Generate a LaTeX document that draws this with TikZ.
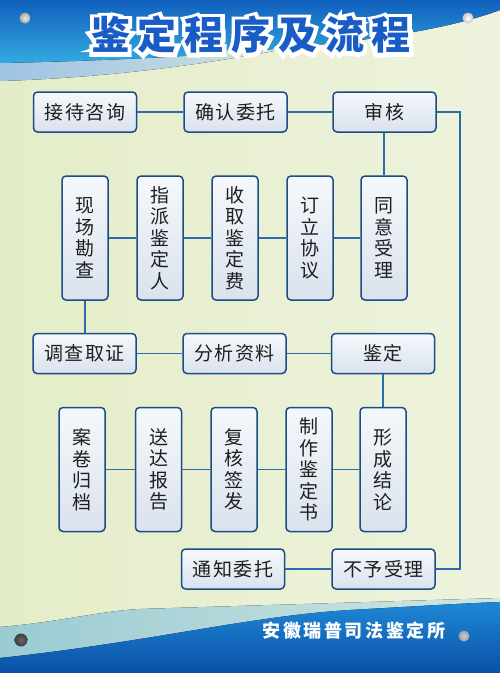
\documentclass[tikz,border=0pt]{standalone}
\usepackage{fontspec}
\newfontfamily\cjk{Noto Sans CJK SC}
\newfontfamily\cjkls{Noto Sans CJK SC}[LetterSpace=8]
\newfontfamily\cjktitle{Noto Sans CJK SC}[LetterSpace=20]
\newfontfamily\cjktitleW{Noto Sans CJK SC}[LetterSpace=20, FakeBold=20]
\newfontfamily\cjkfoot{Noto Sans CJK SC}[LetterSpace=14]
\usetikzlibrary{calc}
\definecolor{bgL}{HTML}{E4EDC8}
\definecolor{bgR}{HTML}{EEF3DD}
\definecolor{bandtop}{HTML}{1160BD}
\definecolor{bandbot}{HTML}{33AAE0}
\definecolor{stripL}{HTML}{9FC3E5}
\definecolor{stripR}{HTML}{D2E4DC}
\definecolor{tealL}{HTML}{9ACBD3}
\definecolor{tealR}{HTML}{CFE6E2}
\definecolor{waveTop}{HTML}{1E88D4}
\definecolor{waveBot}{HTML}{0B50A8}
\definecolor{boxborder}{HTML}{1B4C85}
\definecolor{boxtop}{HTML}{F5F8FC}
\definecolor{boxbot}{HTML}{DAE2ED}
\definecolor{linec}{HTML}{2A6DAD}
\definecolor{textc}{HTML}{1E1E1E}
\definecolor{titlec}{HTML}{1A5CC6}
\tikzset{
  boxbase/.style={draw=boxborder, line width=1.5pt, rounded corners=4pt,
    top color=boxtop, bottom color=boxbot, inner sep=0pt, text=textc},
  hbox/.style={boxbase, minimum width=103pt, minimum height=40pt,
    font=\cjkls\fontsize{19}{21}\selectfont},
  vbox/.style={boxbase, minimum width=46pt, minimum height=124pt, align=center,
    font=\cjk\fontsize{19}{21.5}\selectfont},
  conn/.style={draw=linec, line width=1.8pt},
  screw/.style={inner sep=0pt, minimum size=11pt, circle}
}
\begin{document}
\begin{tikzpicture}[x=1pt,y=-1pt]
\useasboundingbox (0,0) rectangle (500,673);
% background
\fill[left color=bgL, right color=bgR] (0,0) rectangle (500,673);
% light strip under top band
\fill[left color=stripL, right color=stripR] (0,40) -- (300,40) -- (300,46)
  .. controls (200,66) and (100,78) .. (0,81) -- cycle;
% top band
\fill[top color=bandtop, bottom color=bandbot] (0,0) -- (500,0) -- (500,10)
  .. controls (430,36) and (320,46) .. (200,55) .. controls (120,60) and (50,62) .. (0,63) -- cycle;
% bottom teal wave
\fill[left color=tealL, right color=tealR] (0,627) .. controls (60,622) and (100,611) .. (140,609)
  -- (500,598) -- (500,673) -- (0,673) -- cycle;
% bottom blue wave
\fill[top color=waveTop, bottom color=waveBot] (0,658) .. controls (150,642) and (250,616) .. (350,610)
  .. controls (420,606) and (470,603) .. (500,602) -- (500,673) -- (0,673) -- cycle;
% screws
\node[screw, inner color=white!85!gray, outer color=gray!70] (s1) at (25,18) {};
\node[screw, inner color=white, outer color=gray!45] (s2) at (468,18) {};
\node[screw, inner color=gray!80!black, outer color=black!75, minimum size=13pt] (s3) at (21,640) {};
\node[screw, inner color=gray!40, outer color=gray!75] (s4) at (464,636) {};
% title with white outline
\node[text=white, font=\cjktitleW\bfseries\fontsize{39}{41}\selectfont] (titlebg) at (251,35) {鉴定程序及流程};
\node[text=titlec, font=\cjktitle\bfseries\fontsize{39}{41}\selectfont] (title) at (251,35) {鉴定程序及流程};
% footer
\node[text=white, font=\cjkfoot\bfseries\fontsize{18}{20}\selectfont] (foot) at (354,631) {安徽瑞普司法鉴定所};
% row 1
\node[hbox] (a1) at (85,112) {接待咨询};
\node[hbox] (a2) at (235.5,112) {确认委托};
\node[hbox] (a3) at (384.5,112) {审核};
% row 2
\node[vbox] (b1) at (85,238) {现\\场\\勘\\查};
\node[vbox] (b2) at (160,238) {指\\派\\鉴\\定\\人};
\node[vbox] (b3) at (235,238) {收\\取\\鉴\\定\\费};
\node[vbox] (b4) at (310,238) {订\\立\\协\\议};
\node[vbox] (b5) at (384,238) {同\\意\\受\\理};
% row 3
\node[hbox] (c1) at (84.5,353.5) {调查取证};
\node[hbox] (c2) at (234.5,353.5) {分析资料};
\node[hbox] (c3) at (383,353.5) {鉴定};
% row 4
\node[vbox] (d1) at (82,469.5) {案\\卷\\归\\档};
\node[vbox] (d2) at (158.5,469.5) {送\\达\\报\\告};
\node[vbox] (d3) at (234,469.5) {复\\核\\签\\发};
\node[vbox] (d4) at (309,469.5) {制\\作\\鉴\\定\\书};
\node[vbox] (d5) at (383,469.5) {形\\成\\结\\论};
% row 5
\node[hbox] (e1) at (233,569) {通知委托};
\node[hbox] (e2) at (383.5,569) {不予受理};
% connectors
\draw[conn] (a1) -- (a2);
\draw[conn] (a2) -- (a3);
\draw[conn] (a3.south -| b5) -- (b5.north);
\draw[conn] (b1) -- (b2);
\draw[conn] (b2) -- (b3);
\draw[conn] (b3) -- (b4);
\draw[conn] (b4) -- (b5);
\draw[conn] (b1.south) -- (c1.north -| b1);
\draw[conn] (c1) -- (c2);
\draw[conn] (c2) -- (c3);
\draw[conn] (c3.south -| d5) -- (d5.north);
\draw[conn] (d1) -- (d2);
\draw[conn] (d2) -- (d3);
\draw[conn] (d3) -- (d4);
\draw[conn] (d4) -- (d5);
\draw[conn] (e2) -- (e1);
\coordinate (rtop) at (460,112);
\draw[conn] (a3.east) -- (rtop) |- (e2.east);
\end{tikzpicture}
\end{document}
